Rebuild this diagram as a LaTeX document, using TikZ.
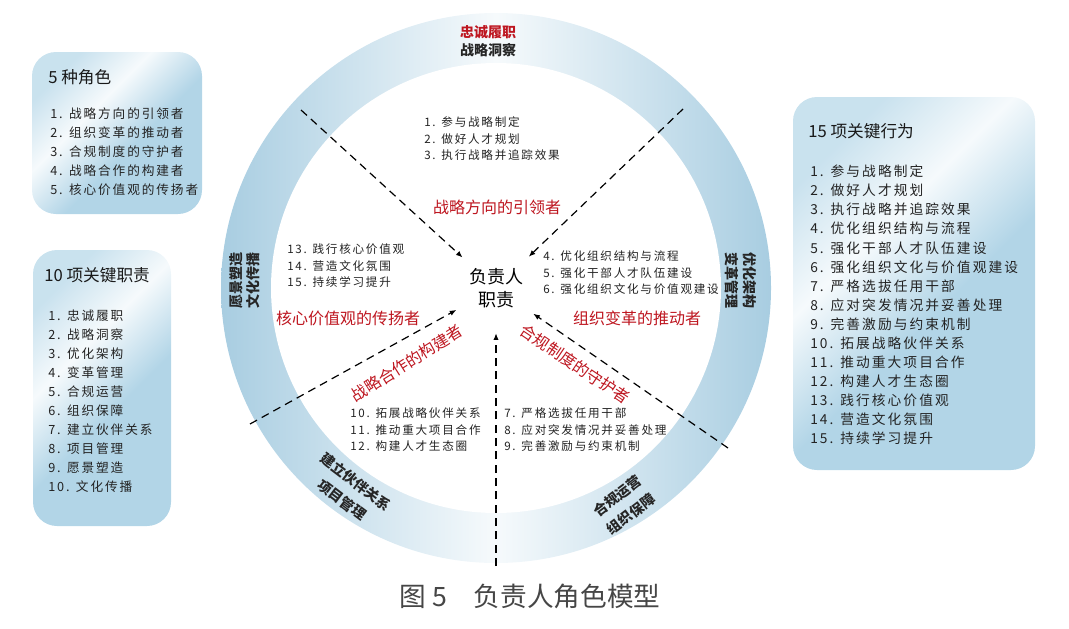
\documentclass[tikz,border=0pt]{standalone}
\usepackage{fontspec}
\setmainfont{Noto Sans CJK SC}
\newfontfamily\listfont[LetterSpace=15]{Noto Sans CJK SC}
\usepackage{tikz}
\usetikzlibrary{positioning,arrows.meta,calc}
\definecolor{ringblue}{RGB}{168,205,225}
\definecolor{boxblue}{RGB}{178,213,231}
\definecolor{rolered}{RGB}{190,22,32}
\definecolor{listgray}{RGB}{35,35,35}
\definecolor{captiongray}{RGB}{70,70,70}
\pgfdeclareverticalshading{boxglare}{100bp}{color(0bp)=(boxblue); color(44bp)=(boxblue); color(60bp)=(white!88!boxblue); color(75bp)=(boxblue!70!white); color(100bp)=(boxblue!70!white)}

\begin{document}
\begin{tikzpicture}[x=0.75pt,y=-0.75pt,
    itemlist/.style={anchor=west,align=left,inner sep=0pt,text=listgray,font=\listfont\fontsize{8.7}{12.4}\selectfont},
    boxlist/.style={itemlist,font=\listfont\fontsize{9.5}{14.3}\selectfont},
    boxtitle/.style={anchor=west,inner sep=0pt,text=black!90,font=\fontsize{12.5}{15}\selectfont},
    rolelabel/.style={text=rolered,inner sep=0pt,font=\fontsize{12}{14}\selectfont},
    ringlabel/.style={align=center,inner sep=0pt,text=black!85,font=\bfseries\fontsize{10.5}{13}\selectfont},
    slantlabel/.style={ringlabel,font=\bfseries\fontsize{10.5}{17}\selectfont},
    flow/.style={line width=0.9pt,dash pattern=on 6pt off 4pt,-{Latex[length=5pt,width=4pt]}},
    panel/.style={rounded corners=18pt,shading=boxglare,shading angle=45}]
  \useasboundingbox (0,0) rectangle (1069,628);

  % side panels
  \shade[panel] (32,52) rectangle (202,214);
  \shade[panel] (33,250) rectangle (171,526);
  \shade[panel] (793,97) rectangle (1035,470);

  \node[boxtitle] (roletitle) at (48,77) {5 种角色};
  \node[boxlist] (rolelist) at (50,152) {1. 战略方向的引领者\\2. 组织变革的推动者\\3. 合规制度的守护者\\4. 战略合作的构建者\\5. 核心价值观的传扬者};

  \node[boxtitle] (dutytitle) at (44,275) {10 项关键职责};
  \node[boxlist] (dutylist) at (48,401) {1. 忠诚履职\\2. 战略洞察\\3. 优化架构\\4. 变革管理\\5. 合规运营\\6. 组织保障\\7. 建立伙伴关系\\8. 项目管理\\9. 愿景塑造\\10. 文化传播};

  \node[boxtitle] (acttitle) at (808,131) {15 项关键行为};
  \node[boxlist,font=\listfont\fontsize{10.3}{14.3}\selectfont] (actlist) at (810,305) {1. 参与战略制定\\2. 做好人才规划\\3. 执行战略并追踪效果\\4. 优化组织结构与流程\\5. 强化干部人才队伍建设\\6. 强化组织文化与价值观建设\\7. 严格选拔任用干部\\8. 应对突发情况并妥善处理\\9. 完善激励与约束机制\\10. 拓展战略伙伴关系\\11. 推动重大项目合作\\12. 构建人才生态圈\\13. 践行核心价值观\\14. 营造文化氛围\\15. 持续学习提升};

  % ring
  \coordinate (c) at (496,288);
  \shade[left color=ringblue,right color=ringblue,middle color=ringblue!10] (c) circle [radius=275];
  \fill[white] (c) circle [radius=225];

  \node[ringlabel,font=\bfseries\fontsize{10.5}{13.5}\selectfont] (ringtop) at (488,41) {\textcolor{rolered}{忠诚履职}\\战略洞察};
  \node[ringlabel,rotate=90] (ringleft) at (245,280) {愿景塑造\\文化传播};
  \node[ringlabel,rotate=-90] (ringright) at (741,280) {优化架构\\变革管理};
  \node[slantlabel,rotate=-37] (ringsw) at (349,491) {建立伙伴关系\\项目管理};
  \node[slantlabel,rotate=37] (ringse) at (624,505) {合规运营\\组织保障};

  \node[circle,minimum size=67.5pt,align=center,inner sep=0pt,font=\fontsize{13.5}{17.5}\selectfont] (resp) at (c) {负责人\\职责};

  \coordinate (cut-nw) at (301,110);
  \coordinate (cut-ne) at (683,109);
  \coordinate (cut-sw) at (250,424);
  \coordinate (cut-se) at (728,448);
  \coordinate (cut-s) at (496,566);
  \foreach \s in {cut-nw,cut-ne,cut-sw,cut-se,cut-s}
    \draw[flow] (\s) -- (resp);

  \node[rolelabel] (lead) at (497,207) {战略方向的引领者};
  \node[rolelabel] (spread) at (348,318) {核心价值观的传扬者};
  \node[rolelabel] (drive) at (637,318) {组织变革的推动者};
  \node[rolelabel,rotate=32] (build) at (407,363) {战略合作的构建者};
  \node[rolelabel,rotate=-34] (guard) at (575,364) {合规制度的守护者};

  \node[itemlist] (leadlist) at (424,139) {1. 参与战略制定\\2. 做好人才规划\\3. 执行战略并追踪效果};
  \node[itemlist] (drivelist) at (543,273) {4. 优化组织结构与流程\\5. 强化干部人才队伍建设\\6. 强化组织文化与价值观建设};
  \node[itemlist] (spreadlist) at (287,266) {13. 践行核心价值观\\14. 营造文化氛围\\15. 持续学习提升};
  \node[itemlist] (buildlist) at (350,430) {10. 拓展战略伙伴关系\\11. 推动重大项目合作\\12. 构建人才生态圈};
  \node[itemlist] (guardlist) at (504,430) {7. 严格选拔任用干部\\8. 应对突发情况并妥善处理\\9. 完善激励与约束机制};

  \node[text=captiongray,font=\fontsize{20}{24}\selectfont] (caption) at (530,596) {图~5\quad 负责人角色模型};
\end{tikzpicture}
\end{document}
